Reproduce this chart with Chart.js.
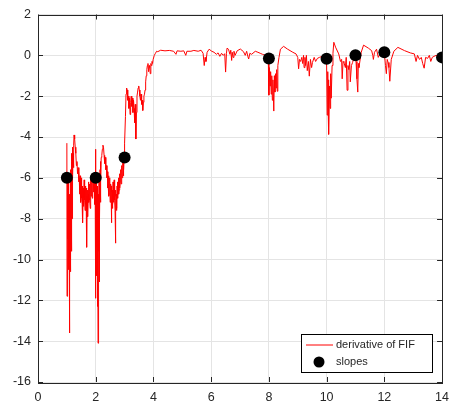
<!DOCTYPE html>
<html>
<head>
<meta charset="utf-8">
<script src="https://cdn.jsdelivr.net/npm/chart.js@4"></script>
<style>
  html, body { margin: 0; padding: 0; background: #ffffff; }
  #wrap { width: 457px; height: 409px; }
</style>
</head>
<body>
<div id="wrap"><canvas id="fifChart" width="457" height="409"></canvas></div>
<script>
// derivative of FIF (x / y pairs)
const fifX = [
  1.000, 1.006, 1.011, 1.017, 1.022, 1.028, 1.034, 1.039, 1.045, 1.050, 1.056, 1.062, 1.067, 1.073,
  1.078, 1.084, 1.090, 1.095, 1.101, 1.106, 1.112, 1.118, 1.123, 1.129, 1.134, 1.140, 1.146, 1.151,
  1.157, 1.162, 1.168, 1.172, 1.176, 1.180, 1.184, 1.19, 1.20, 1.21, 1.22, 1.23, 1.24, 1.25,
  1.27, 1.29, 1.31, 1.33, 1.35, 1.37, 1.39, 1.41, 1.42, 1.43, 1.44, 1.45, 1.46,
  1.47, 1.48, 1.49, 1.50, 1.51, 1.52, 1.53, 1.54, 1.55, 1.56, 1.57, 1.58, 1.59, 1.60, 1.61, 1.62,
  1.63, 1.64, 1.65, 1.66, 1.67, 1.68, 1.69, 1.70, 1.71, 1.72, 1.73, 1.74, 1.75, 1.76, 1.77, 1.78,
  1.79, 1.80, 1.81, 1.82, 1.83, 1.84, 1.85, 1.86, 1.87, 1.88, 1.89, 1.90, 1.91, 1.92, 1.93, 1.94,
  1.95, 1.96, 1.97, 1.98, 1.99,
  1.996, 2.001, 2.006, 2.011, 2.016, 2.021, 2.026, 2.031, 2.036, 2.041, 2.046, 2.051, 2.056, 2.061,
  2.066, 2.071, 2.076, 2.081, 2.086, 2.091, 2.096, 2.101, 2.106, 2.111, 2.116, 2.121, 2.126, 2.131,
  2.136, 2.141, 2.15, 2.16, 2.17, 2.18,
  2.19, 2.21, 2.23, 2.25, 2.27, 2.29, 2.31, 2.33, 2.35, 2.37, 2.39, 2.41, 2.42, 2.43, 2.44, 2.45,
  2.46, 2.47, 2.48, 2.49, 2.50, 2.51, 2.52, 2.53, 2.54, 2.55, 2.56, 2.57, 2.58, 2.59, 2.60, 2.61,
  2.62, 2.63, 2.64, 2.65, 2.66, 2.67, 2.68, 2.69, 2.70, 2.71, 2.72, 2.73, 2.74, 2.75, 2.76, 2.77,
  2.78, 2.79, 2.80, 2.81, 2.82, 2.83, 2.84, 2.85, 2.86, 2.87, 2.88, 2.89, 2.90, 2.91, 2.92, 2.93,
  2.94, 2.95, 2.96, 2.97, 2.98, 2.99,
  3.01, 3.03, 3.05, 3.07, 3.09, 3.11, 3.13, 3.15, 3.17, 3.19, 3.21, 3.23, 3.25, 3.27, 3.29, 3.31,
  3.33, 3.35, 3.37, 3.39, 3.41, 3.43, 3.45, 3.47, 3.49, 3.51, 3.53, 3.55, 3.57, 3.59, 3.61, 3.63,
  3.65, 3.67, 3.69, 3.71, 3.73, 3.75, 3.77, 3.79, 3.81, 3.83, 3.85, 3.87, 3.89, 3.91, 3.93, 3.95,
  3.97, 3.99, 4.03, 4.07, 4.11, 4.15,
  4.25, 4.40, 4.55, 4.70, 4.78, 4.82, 4.95, 5.05, 5.12, 5.16, 5.30, 5.40, 5.55, 5.65, 5.72, 5.76,
  5.79, 5.82, 5.86, 5.93, 6.02, 6.10, 6.18, 6.24, 6.30, 6.36, 6.42, 6.47, 6.50, 6.53, 6.55, 6.60,
  6.65, 6.68, 6.71, 6.73, 6.76, 6.79, 6.83, 6.90, 7.01, 7.12, 7.18, 7.23, 7.27, 7.30, 7.34, 7.40,
  7.53, 7.62, 7.70, 7.78, 7.86, 7.95,
  7.98, 8.00, 8.02, 8.04, 8.06, 8.08, 8.10, 8.12, 8.14, 8.17, 8.19, 8.21, 8.23, 8.25, 8.27, 8.29,
  8.31, 8.35, 8.40, 8.51, 8.65, 8.83, 8.94, 9.00, 9.03, 9.06, 9.10, 9.14, 9.17, 9.20, 9.22, 9.25,
  9.27, 9.30, 9.33, 9.37, 9.40, 9.44, 9.48, 9.51, 9.57, 9.62, 9.68, 9.75, 9.85, 9.95,
  10.00, 10.02, 10.04, 10.05, 10.06, 10.08, 10.10, 10.12, 10.14, 10.16, 10.19, 10.22, 10.25, 10.31,
  10.42, 10.48, 10.52, 10.54, 10.57, 10.60, 10.65, 10.68, 10.71, 10.74, 10.77, 10.80, 10.82, 10.86,
  10.90, 10.96,
  11.02, 11.05, 11.08, 11.10, 11.12, 11.20, 11.28, 11.45, 11.56, 11.60, 11.62, 11.66, 11.73, 11.79,
  11.84, 11.90, 11.96,
  12.01, 12.04, 12.07, 12.10, 12.13, 12.16, 12.19, 12.24, 12.33, 12.47, 12.70, 12.90, 13.04, 13.10,
  13.15, 13.22, 13.28, 13.33, 13.38, 13.43, 13.50, 13.56, 13.61, 13.66, 13.72, 13.80, 13.90, 14.00
];
const fifY = [
  -4.3, -11.8, -6.2, -9.8, -5.8, -10.2, -6.5, -9.0, -6.0, -9.6, -7.0, -10.5, -6.6, -9.2,
  -7.4, -13.6, -7.8, -10.8, -6.8, -9.9, -7.2, -10.6, -6.5, -9.3, -5.6, -8.8, -6.2, -9.6,
  -5.4, -8.2, -4.8, -7.6, -5.2, -8.0, -4.6, -6.8, -4.5, -6.0, -4.8, -5.5, -4.4, -3.9,
  -4.1, -4.5, -4.8, -5.4, -5.2, -5.8, -5.5, -6.2, -5.7, -6.0, -6.8, -6.6, -5.9,
  -6.1, -7.2, -6.9, -6.0, -6.3, -7.0, -7.3, -6.4, -8.2, -6.8, -6.5, -7.4, -7.0, -6.1, -6.2, -7.1,
  -7.6, -6.6, -6.4, -7.3, -7.2, -6.5, -9.4, -6.9, -6.6, -7.4, -7.9, -6.8, -6.2, -7.2, -7.0, -6.4,
  -6.3, -7.1, -7.5, -6.5, -6.0, -6.9, -6.8, -6.2, -6.1, -7.0, -6.5, -6.0, -5.8, -6.7, -6.6, -6.0,
  -5.9, -6.8, -7.3, -6.4, -6.2,
  -4.6, -11.9, -6.5, -10.2, -6.0, -9.6, -6.8, -10.8, -7.2, -9.4, -6.4, -10.6, -7.6, -12.3,
  -7.0, -10.0, -7.8, -14.1, -8.2, -11.0, -7.4, -10.4, -6.8, -9.6, -6.2, -11.1, -6.6, -9.8,
  -5.8, -8.0, -5.6, -7.2, -5.2, -6.0,
  -5.0, -4.9, -4.6, -4.4, -4.5, -4.9, -5.3, -5.0, -5.6, -5.4, -6.0, -5.7, -6.5, -6.3, -5.9, -6.0,
  -6.9, -6.8, -6.0, -6.2, -7.2, -7.1, -6.3, -6.4, -7.4, -8.2, -6.7, -6.6, -7.5, -7.3, -6.2, -6.5,
  -7.2, -7.0, -6.1, -6.3, -7.1, -7.6, -6.6, -9.2, -6.9, -6.8, -7.6, -7.5, -6.4, -6.2, -6.9, -7.0,
  -6.2, -6.0, -6.8, -6.6, -5.8, -5.9, -6.5, -6.2, -5.6, -5.6, -6.3, -6.0, -5.4, -5.5, -6.0, -5.8,
  -5.2, -5.3, -5.9, -5.6, -5.1, -5.0,
  -4.3, -3.0, -1.9, -1.6, -1.7, -2.2, -2.0, -2.6, -2.1, -2.9, -2.3, -2.0, -2.5, -2.1, -2.8, -2.2,
  -2.6, -3.3, -2.4, -4.1, -2.8, -2.0, -1.8, -1.6, -1.5, -1.7, -2.0, -2.2, -1.9, -2.4, -2.2, -2.7,
  -2.3, -2.0, -1.9, -1.7, -1.3, -1.0, -0.7, -0.5, -0.4, -0.8, -0.5, -0.6, -0.9, -0.4, -0.5, -0.3,
  -0.4, -0.2, 0.0, 0.1, 0.2, 0.18,
  0.25, 0.22, 0.24, 0.20, 0.05, 0.22, 0.20, 0.22, 0.0, 0.20, 0.20, 0.24, 0.20, 0.25, 0.10, -0.5,
  -0.1, -0.3, 0.15, 0.30, 0.20, 0.15, 0.05, 0.12, -0.05, 0.10, 0.0, 0.08, -0.82, 0.10, 0.35, 0.30,
  0.05, 0.25, -0.25, 0.15, -0.10, 0.20, 0.0, 0.22, 0.31, 0.18, 0.0, 0.20, -0.05, -0.18, 0.10, 0.05,
  0.20, 0.15, 0.10, 0.05, 0.0, -0.05,
  -0.2, -1.95, -0.6, -1.5, -0.8, -1.9, -1.0, -2.2, -1.2, -2.73, -1.0, -1.8, -0.9, -1.6, -0.7, -1.76,
  -0.5, -0.1, 0.3, 0.44, 0.30, 0.15, 0.07, -0.1, -0.66, -0.2, -0.3, -0.1, -0.4, 0.0, -0.6, -0.1,
  -0.5, 0.0, -0.75, -0.3, -1.02, -0.2, -0.6, -0.35, -0.1, -0.3, -0.15, -0.1, -0.05, -0.1,
  -0.4, -2.93, -0.8, -2.4, -1.2, -3.87, -1.5, -2.6, -0.9, -2.1, -0.5, 0.1, 0.64, 0.40,
  0.07, -0.3, -0.2, -1.15, -0.3, -0.35, -0.6, -0.1, -1.71, -0.5, -0.7, -0.3, -1.3, -0.5,
  -0.35, -0.05,
  -0.3, -1.15, -1.8, -0.4, -0.6, 0.15, 0.50, 0.35, 0.23, 0.0, -0.2, 0.15, 0.30, -0.1,
  0.05, 0.2, 0.15,
  0.0, -0.5, -0.9, -0.2, -0.35, -0.6, -1.27, -0.2, 0.20, 0.39, 0.23, 0.12, 0.07, -0.3,
  0.0, -0.2, -0.1, -0.4, -0.63, -0.1, -0.15, 0.0, -0.3, -0.1, -0.05, 0.0, -0.1, -0.05
];

// slopes
const slopeX = [1, 2, 3, 8, 10, 11, 12, 14];
const slopeY = [-6, -6, -5, -0.15, -0.17, 0.0, 0.15, -0.1];

const xTicks = [0, 2, 4, 6, 8, 10, 12, 14];
const yTicks = [-16, -14, -12, -10, -8, -6, -4, -2, 0, 2];

const labels = ['derivative of FIF', 'slopes'];

const axisColor = '#262626';
const gridColor = '#e4e4e4';

// box round the plot + inward tick marks, drawn under the data
const framePlugin = {
    id: 'frame',
    beforeDatasetsDraw(chart) {
        const ctx = chart.ctx;
        const a = chart.chartArea;
        const xs = chart.scales.x;
        const ys = chart.scales.y;
        ctx.save();
        ctx.strokeStyle = axisColor;
        ctx.lineWidth = 1;
        ctx.beginPath();
        xTicks.forEach((v) => {
            const px = Math.round(xs.getPixelForValue(v)) + 0.5;
            ctx.moveTo(px, a.bottom); ctx.lineTo(px, a.bottom - 5);
            ctx.moveTo(px, a.top); ctx.lineTo(px, a.top + 5);
        });
        yTicks.forEach((v) => {
            const py = Math.round(ys.getPixelForValue(v)) + 0.5;
            ctx.moveTo(a.left, py); ctx.lineTo(a.left + 5, py);
            ctx.moveTo(a.right, py); ctx.lineTo(a.right - 5, py);
        });
        ctx.stroke();
        ctx.strokeRect(Math.round(a.left) + 0.5, Math.round(a.top) + 0.5,
            Math.round(a.right - a.left), Math.round(a.bottom - a.top));
        ctx.restore();
    }
};

// legend box in the lower right corner of the plot
const legendPlugin = {
    id: 'boxLegend',
    afterDraw(chart) {
        const ctx = chart.ctx;
        const a = chart.chartArea;
        const left = Math.round(a.right) - 141;
        const top = Math.round(a.bottom) - 48;
        ctx.save();
        ctx.fillStyle = '#ffffff';
        ctx.fillRect(left, top, 131, 38);
        ctx.strokeStyle = '#000000';
        ctx.lineWidth = 1;
        ctx.strokeRect(left + 0.5, top + 0.5, 131, 38);

        ctx.strokeStyle = '#ff0000';
        ctx.beginPath();
        ctx.moveTo(left + 5, top + 11);
        ctx.lineTo(left + 32, top + 11);
        ctx.stroke();

        ctx.fillStyle = '#000000';
        ctx.beginPath();
        ctx.arc(left + 18, top + 28, 5.5, 0, Math.PI * 2);
        ctx.fill();

        ctx.fillStyle = axisColor;
        ctx.font = '11px "Liberation Sans", Arial, sans-serif';
        ctx.textBaseline = 'middle';
        ctx.textAlign = 'left';
        ctx.fillText(labels[0], left + 35, top + 11);
        ctx.fillText(labels[1], left + 35, top + 28);
        ctx.restore();
    }
};

const ctxFif = document.getElementById('fifChart').getContext('2d');
const fifChart = new Chart(ctxFif, {
    type: 'line',
    data: {
        datasets: [
            {
                label: labels[0],
                data: fifX.map((x, i) => ({ x: x, y: fifY[i] })),
                borderColor: '#ff0000',
                borderWidth: 1,
                pointRadius: 0,
                fill: false,
                tension: 0,
                order: 1
            },
            {
                label: labels[1],
                data: slopeX.map((x, i) => ({ x: x, y: slopeY[i] })),
                showLine: false,
                pointRadius: 6,
                pointBackgroundColor: '#000000',
                pointBorderColor: '#000000',
                pointBorderWidth: 0,
                order: 0
            }
        ]
    },
    options: {
        responsive: false,
        animation: false,
        layout: { padding: { top: 12, right: 9, bottom: 0, left: 0 } },
        plugins: {
            legend: { display: false },
            tooltip: { enabled: false }
        },
        scales: {
            x: {
                type: 'linear',
                min: 0,
                max: 14,
                afterBuildTicks: (scale) => { scale.ticks = xTicks.map((v) => ({ value: v })); },
                afterFit: (scale) => { scale.height = 27; },
                grid: { color: gridColor, drawTicks: false },
                border: { display: false },
                ticks: {
                    color: axisColor,
                    padding: 8,
                    maxRotation: 0,
                    font: { family: '"Liberation Sans", Arial, sans-serif', size: 12.5 }
                }
            },
            y: {
                type: 'linear',
                min: -16,
                max: 2,
                afterBuildTicks: (scale) => { scale.ticks = yTicks.map((v) => ({ value: v })); },
                afterFit: (scale) => { scale.width = 38; },
                grid: { color: gridColor, drawTicks: false },
                border: { display: false },
                ticks: {
                    color: axisColor,
                    padding: 7,
                    font: { family: '"Liberation Sans", Arial, sans-serif', size: 12.5 }
                }
            }
        }
    },
    plugins: [framePlugin, legendPlugin]
});
</script>
</body>
</html>
